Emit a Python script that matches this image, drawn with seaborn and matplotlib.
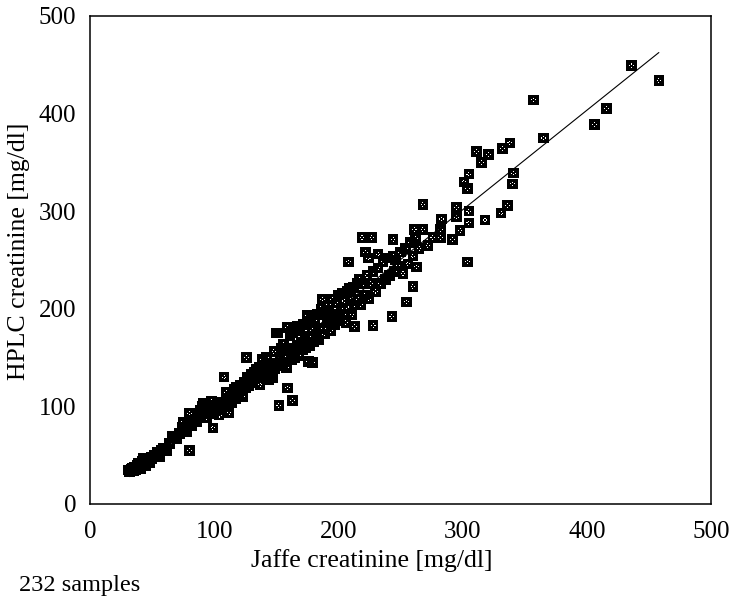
import numpy as np
import pandas as pd
import matplotlib
matplotlib.use('Agg')
import matplotlib.pyplot as plt
from matplotlib.path import Path
import seaborn as sns

# Jaffe (x) vs HPLC (y) creatinine
jaffe = [31, 32, 33, 34, 35, 36, 37, 38, 39, 40, 41, 42, 43, 44, 45, 46, 47, 48, 49, 50, 51, 52, 54, 56, 57, 59, 62,
         64, 66, 68, 70, 72, 74, 75, 76, 78, 78, 80, 80, 82, 84, 86, 88, 89, 90, 91, 92, 93, 94, 95, 96, 97, 98, 99, 100, 101, 102, 104,
         105, 106, 108, 109, 110, 111, 112, 113, 114, 115, 116, 117, 118, 119, 120, 121, 122, 123, 124, 125, 126, 126, 127, 128,
         129, 130, 131, 132, 133, 134, 135, 136, 137, 138, 139, 140, 141, 142, 143, 144, 145, 146, 147, 148, 149, 150,
         150, 151, 152, 153, 154, 155, 156, 157, 158, 159, 159, 160, 161, 162, 163, 163, 164, 165, 166, 167, 167, 168, 169, 170,
         171, 172, 173, 174, 175, 175, 176, 176, 177, 178, 179, 179, 180, 181, 182, 183, 184, 185, 186, 187, 187, 188, 189, 190,
         191, 192, 193, 194, 195, 196, 197, 198, 199, 200,
         201, 202, 203, 204, 205, 206, 207, 208, 208, 209, 210, 211, 212, 213, 213, 215, 216, 217, 218, 219, 220, 221, 222, 223,
         224, 224, 226, 227, 228, 228, 230, 232, 232, 234, 236, 238, 240, 241, 243, 244, 244, 245, 246, 248, 250, 252, 254, 255,
         256, 258, 260, 260, 262, 263, 265,
         268, 268, 261, 272, 276, 282, 282, 283, 292, 295, 295, 298, 301, 304, 304, 305, 305, 305, 311, 315, 318, 321, 331, 332,
         336, 338, 340, 341, 357, 365, 406, 416, 436, 458]
hplc = [35, 33, 36, 37, 34, 38, 35, 40, 42, 38, 36, 44, 47, 41, 39, 45, 43, 42, 48, 46, 48, 50, 53, 48, 55, 57, 55,
        62, 69, 69, 67, 72, 79, 84, 77, 74, 83, 93, 55, 80, 86, 84, 90, 96, 100, 103, 92, 98, 88, 95, 101, 93, 105, 78, 98, 96, 100, 91,
        104, 98, 130, 101, 114, 106, 94, 110, 104, 112, 118, 108, 120, 115, 112, 122, 117, 110, 125, 119, 124, 150, 130, 121,
        127, 133, 124, 135, 128, 138, 131, 140, 122, 134, 148, 138, 130, 150, 137, 127, 129, 142, 129, 156, 139, 144,
        175, 175, 101, 150, 160, 142, 164, 153, 140, 119, 181, 158, 172, 148, 106, 176, 160, 150, 178, 182, 163, 152, 180, 166,
        158, 184, 169, 160, 193, 186, 146, 172, 162, 190, 145, 178, 166, 188, 172, 194, 168, 180, 200, 210, 196, 180, 174, 198,
        186, 204, 190, 178, 210, 194, 184, 206, 192, 214,
        188, 200, 216, 194, 208, 186, 218, 248, 200, 221, 212, 194, 222, 182, 204, 226, 210, 230, 204, 273, 226, 214, 258, 234,
        252, 210, 226, 273, 183, 238, 218, 256, 242, 226, 248, 230, 252, 234, 192, 271, 254, 238, 250, 244, 258, 236, 262, 207,
        246, 268, 223, 254, 272, 243, 262,
        307, 281, 281, 265, 273, 281, 273, 292, 271, 304, 294, 280, 330, 323, 248, 338, 300, 288, 361, 350, 291, 358, 298, 364,
        306, 370, 328, 339, 414, 375, 389, 405, 449, 434]

# fitted line shown in the figure
fit_slope = 1.02
fit_intercept = -4.6
fit_range = [32, 458]

df = pd.DataFrame({'jaffe': jaffe, 'hplc': hplc})

sns.set_style('white')
plt.rcParams['font.family'] = ['Liberation Serif', 'DejaVu Serif']

# dark square with a few white specks, like the printed marker
sq = [(-0.5, -0.5), (0.5, -0.5), (0.5, 0.5), (-0.5, 0.5), (-0.5, -0.5)]
verts, codes = list(sq), [Path.MOVETO] + [Path.LINETO] * 3 + [Path.CLOSEPOLY]
h = 0.05
for cx, cy in [(0, 0.17), (0, -0.17), (0.17, 0), (-0.17, 0)]:
    hole = [(cx - h, cy - h), (cx - h, cy + h), (cx + h, cy + h), (cx + h, cy - h), (cx - h, cy - h)]
    verts += hole
    codes += [Path.MOVETO] + [Path.LINETO] * 3 + [Path.CLOSEPOLY]
speckled_square = Path(verts, codes)

fig = plt.figure(figsize=(7.3, 5.99), dpi=100)
ax = fig.add_axes([0.1233, 0.1586, 0.8507, 0.8147])

sns.scatterplot(data=df, x='jaffe', y='hplc', marker=speckled_square, s=58,
                color='black', edgecolor='none', linewidth=0, ax=ax, zorder=3)
fx = np.array(fit_range)
ax.plot(fx, fit_slope * fx + fit_intercept, color='black', lw=0.8, zorder=2)

ax.set_xlim(0, 500)
ax.set_ylim(0, 500)
ax.set_xticks(range(0, 501, 100))
ax.set_yticks(range(0, 501, 100))
ax.tick_params(axis='both', direction='in', length=7, width=1, labelsize=18,
               colors='black', labelcolor='black')
ax.tick_params(axis='x', pad=12)
ax.tick_params(axis='y', pad=10)
for sp in ax.spines.values():
    sp.set_color('black')
    sp.set_linewidth(1.1)

ax.set_xlabel('Jaffe creatinine [mg/dl]', fontsize=18.5, va='center', color='black')
ax.set_ylabel('HPLC creatinine [mg/dl]', fontsize=18.5, va='center', color='black')
ax.xaxis.set_label_coords(0.454, -0.115)
ax.yaxis.set_label_coords(-0.115, 0.518)

fig.text(0.026, 0.023, '232 samples', fontsize=17.5, va='center', ha='left', color='black')

fig.savefig('out.png', dpi=100)
